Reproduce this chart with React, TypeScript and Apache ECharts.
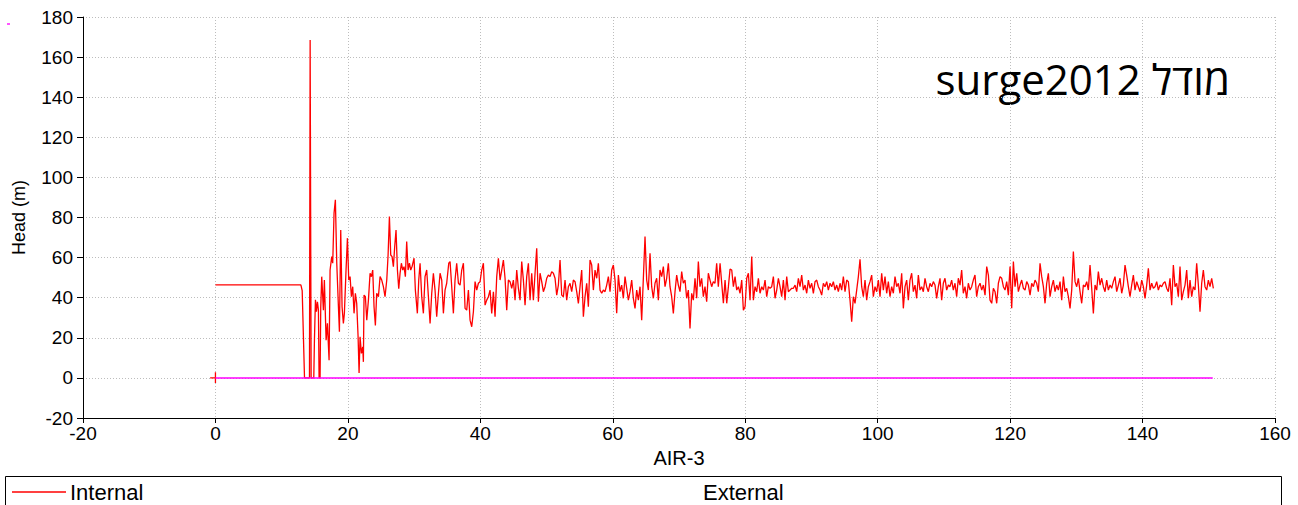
import React, { useEffect, useRef } from "react";
import * as echarts from "echarts";

// ---- data (x = time, y = head in m) ----
const internalEarly: [number, number][] = [
  [0, 46.4], [12.9, 46.4], [13.1, 43.5], [13.45, 0], [14.2, 0], [14.3, 168.5], [14.45, 0],
  [14.85, 0], [14.95, 19], [15.1, 39], [15.25, 33], [15.4, 38], [15.55, 34], [15.65, 0], [15.8, 0],
  [15.9, 35], [16.05, 50.5], [16.3, 33.8], [16.45, 48.8], [16.71, 18.8], [16.91, 27.2], [17.16, 8.8],
  [17.31, 53.8], [17.56, 60.5], [17.71, 57.2], [17.91, 82.2], [18.11, 88.8], [18.32, 57.2], [18.57, 35.5],
  [18.72, 23.0], [18.92, 73.8], [19.12, 35.5], [19.32, 27.2], [19.47, 32.2], [19.72, 53.8], [19.93, 69.7],
  [20.13, 48.8], [20.33, 50.5], [20.53, 40.5], [20.73, 45.5], [20.93, 32.2], [21.13, 42.2], [21.33, 37.2],
  [21.54, 20.5], [21.69, 2.5], [21.84, 20.5], [22.04, 12.2], [22.24, 15.5], [22.34, 8.0], [22.44, 41.3],
  [22.64, 40.5], [22.85, 28.8], [23.1, 38.8], [23.35, 52.2], [23.55, 50.5], [23.75, 53.8], [23.95, 35.5],
  [24.15, 26.2], [24.35, 42.2], [24.61, 40.5], [24.86, 50.5], [25.11, 48.8], [25.36, 45.5], [25.61, 40.5],
  [25.87, 48.8], [26.07, 61.3], [26.27, 80.5], [26.47, 61.3], [26.67, 60.5], [26.87, 55.5], [27.07, 65.5],
  [27.27, 73.8], [27.48, 53.8], [27.68, 44.5], [27.88, 52.2], [28.08, 57.2], [28.28, 53.8], [28.48, 55.5],
  [28.68, 50.5], [28.88, 68.0], [29.09, 53.8], [29.29, 57.2], [29.49, 53.8], [29.69, 55.5], [29.99, 59.7],
  [30.19, 43.8], [30.49, 32.2], [30.7, 48.8], [30.9, 57.2], [31.15, 40.5], [31.4, 32.2], [31.65, 50.5],
  [31.9, 53.8], [32.16, 40.5], [32.41, 27.2], [32.66, 42.2], [32.91, 52.2], [33.16, 43.8], [33.41, 30.5],
  [33.67, 42.2], [33.92, 52.2], [34.17, 48.8], [34.42, 32.2], [34.67, 43.8], [34.92, 47.2], [35.23, 57.2],
  [35.43, 58.0], [35.68, 45.5], [35.93, 32.2], [36.18, 48.8], [36.43, 57.2], [36.69, 47.2],
];

const segAStart = 36.94;
const segAEnd = 75.94;
const segAValues = [
  46.3, 53.8, 57.2, 34.7, 33.8, 43.8, 28.8, 25.5, 33.0, 48.0,
  43.8, 47.2, 48.0, 53.8, 57.2, 36.3, 38.8, 40.5, 43.8, 32.2,
  43.0, 30.5, 50.5, 59.7, 48.8, 53.8, 58.8, 49.7, 33.8, 48.8,
  48.0, 44.7, 48.8, 38.8, 53.8, 44.7, 38.8, 58.0, 48.8, 36.3,
  50.5, 57.2, 38.8, 52.2, 38.8, 52.2, 64.7, 38.0, 52.2, 48.0,
  43.0, 45.5, 49.7, 51.3, 50.5, 53.0, 52.2, 49.7, 41.3, 46.3,
  58.8, 41.3, 40.5, 48.8, 38.8, 45.5, 47.2, 43.0, 48.8, 48.0,
  43.0, 37.2, 45.5, 53.8, 30.5, 40.5, 47.2, 35.5, 58.8, 56.3,
  43.8, 53.8, 49.7, 57.2, 43.8, 42.2, 43.8, 43.0, 46.3, 50.5,
  43.0, 53.8, 56.3, 48.8, 32.2, 51.3, 43.0, 46.3, 39.7, 50.5,
  44.7, 38.8, 43.0, 48.8, 39.7, 34.7, 43.8, 38.8, 45.5, 28.8,
  49.7, 70.5, 48.8, 43.8, 62.2, 45.5, 39.7, 47.2, 49.7, 38.8,
  53.8, 50.5, 55.5, 45.5, 49.7, 57.2, 45.5, 40.5, 32.2, 43.0,
  51.3, 46.3, 43.0, 53.0, 47.2, 48.8, 39.7, 43.8, 24.7, 42.2,
  38.8, 49.7, 39.7, 58.0, 45.5, 49.7, 40.5, 45.5, 38.0, 52.2,
  48.8, 45.5, 48.0, 47.2, 57.2, 45.5,
];

const segBStart = 76.2;
const segBEnd = 115.2;
const segBValues = [
  57.2, 47.2, 37.2, 48.8, 37.2, 45.5, 54.3, 53.8, 45.5, 50.5,
  43.8, 45.5, 42.2, 48.8, 33.8, 35.5, 49.7, 52.2, 38.8, 60.5,
  38.8, 45.5, 43.0, 49.7, 42.2, 45.5, 43.8, 48.8, 40.5, 45.5,
  44.7, 45.5, 50.5, 39.7, 43.8, 49.7, 45.5, 40.5, 48.8, 38.8,
  50.5, 43.0, 43.8, 44.7, 44.7, 46.3, 43.0, 49.7, 45.5, 51.3,
  43.8, 46.3, 42.2, 48.8, 44.7, 47.2, 42.2, 48.0, 48.8, 45.5,
  43.8, 41.3, 47.2, 45.5, 48.0, 43.8, 47.2, 45.5, 48.0, 43.8,
  46.3, 43.0, 47.2, 43.8, 50.5, 43.0, 48.8, 48.0, 38.8, 28.0,
  40.5, 37.2, 43.8, 50.5, 59.2, 45.5, 40.5, 48.8, 38.8, 45.5,
  48.0, 51.3, 40.5, 45.5, 43.0, 48.8, 40.5, 52.2, 43.8, 50.5,
  42.2, 48.0, 40.5, 45.5, 42.2, 50.5, 45.5, 47.2, 42.2, 52.2,
  34.7, 45.5, 48.8, 38.8, 48.8, 52.2, 43.0, 46.3, 39.7, 51.3,
  43.8, 45.5, 43.0, 49.7, 45.5, 43.0, 47.2, 45.5, 48.0, 46.3,
  39.7, 45.5, 49.7, 38.8, 47.2, 49.7, 43.8, 46.3, 45.5, 48.8,
  43.8, 47.2, 40.5, 49.7, 46.3, 53.8, 42.2, 45.5, 39.7, 47.2,
  43.8, 45.5, 48.8, 51.3, 40.5, 45.5,
];

const segCStart = 115.46;
const segCEnd = 150.69;
const segCValues = [
  47.2, 43.8, 46.3, 41.3, 55.5, 51.3, 38.8, 37.2, 44.7, 43.0,
  37.2, 47.2, 50.5, 49.7, 45.5, 43.8, 48.0, 41.3, 55.5, 34.7,
  58.0, 45.5, 52.2, 43.0, 46.3, 48.8, 44.7, 43.8, 48.0, 46.3,
  41.3, 47.2, 45.5, 48.8, 47.2, 43.0, 57.2, 50.5, 45.5, 37.2,
  47.2, 52.2, 40.5, 45.5, 48.8, 43.0, 46.3, 43.8, 48.0, 38.8,
  50.5, 43.0, 44.7, 40.5, 34.7, 43.8, 63.0, 48.0, 45.5, 49.7,
  43.0, 37.2, 46.3, 45.5, 48.0, 43.8, 56.3, 44.7, 32.2, 46.3,
  43.8, 53.0, 46.3, 49.7, 45.5, 43.0, 48.8, 43.8, 46.3, 44.7,
  48.0, 50.5, 43.0, 46.3, 49.7, 42.2, 46.3, 56.3, 51.3, 45.5,
  40.5, 46.3, 51.3, 43.8, 48.0, 45.5, 43.0, 48.8, 45.5, 39.7,
  46.3, 54.7, 43.8, 47.2, 44.7, 45.5, 48.0, 43.8, 46.3, 45.5,
  47.2, 48.0, 44.7, 43.0, 49.7,
  36.3, 56.3, 45.5, 47.2, 40.5, 55.5, 38.8, 43.0, 46.3, 53.8,
  39.7, 48.8, 40.5, 45.5, 43.8, 57.2, 46.3, 33.0, 47.2, 53.8,
  45.5, 43.8, 48.8, 45.5, 49.7, 44.7,
];

const externalPoints: [number, number][] = [[0, 0], [150.6, 0]];
const originMarkH: [number, number][] = [[-0.8, 0], [0.1, 0]];
const originMarkV: [number, number][] = [[0, 2.8], [0, -2.5]];

const xAxisName = "AIR-3";
const yAxisName = "Head (m)";
const titleText = "surge2012 מודל";
const legendNames = ["Internal", "External"];

function segment(start: number, end: number, values: number[]): [number, number][] {
  const step = (end - start) / (values.length - 1);
  return values.map((v, i) => [start + i * step, v]);
}

const FONT = "'Liberation Sans', Arial, Helvetica, sans-serif";

export default function App() {
  const ref = useRef<HTMLDivElement>(null);
  useEffect(() => {
    if (!ref.current) return;
    const chart = echarts.init(ref.current, undefined, { renderer: "svg" });
    const internal = [
      ...internalEarly,
      ...segment(segAStart, segAEnd, segAValues),
      ...segment(segBStart, segBEnd, segBValues),
      ...segment(segCStart, segCEnd, segCValues),
    ];
    const gridLine = { show: true, lineStyle: { color: "#bdbdbd", width: 1, type: [1, 2] as any } };
    const axisCommon = {
      type: "value" as const,
      interval: 20,
      axisLine: { show: true, onZero: false, lineStyle: { color: "#000", width: 1 } },
      axisTick: { show: true, lineStyle: { color: "#000", width: 1 } },
      splitLine: gridLine,
    };
    chart.setOption({
      animation: false,
      backgroundColor: "#fff",
      grid: { left: 83, right: 23, top: 17, bottom: 87, containLabel: false },
      xAxis: {
        ...axisCommon,
        min: -20,
        max: 160,
        axisTick: { ...axisCommon.axisTick, length: 5 },
        axisLabel: { color: "#000", fontSize: 19, fontFamily: FONT, margin: 6 },
        name: xAxisName,
        nameLocation: "middle",
        nameGap: 25,
        nameTextStyle: { color: "#000", fontSize: 20, fontFamily: FONT },
      },
      yAxis: {
        ...axisCommon,
        min: -20,
        max: 180,
        axisTick: { ...axisCommon.axisTick, length: 6 },
        axisLabel: { color: "#000", fontSize: 19, fontFamily: FONT, margin: 10 },
        name: yAxisName,
        nameLocation: "middle",
        nameRotate: 90,
        nameGap: 55,
        nameTextStyle: { color: "#000", fontSize: 18, fontFamily: FONT },
      },
      series: [
        {
          name: legendNames[0],
          type: "line",
          data: internal,
          symbol: "none",
          lineStyle: { color: "#ff0000", width: 1.3 },
          z: 2,
        },
        {
          type: "line",
          data: originMarkH,
          symbol: "none",
          lineStyle: { color: "#ff0000", width: 1.3 },
          z: 2,
        },
        {
          type: "line",
          data: originMarkV,
          symbol: "none",
          lineStyle: { color: "#ff0000", width: 1.3 },
          z: 2,
        },
        {
          name: legendNames[1],
          type: "line",
          data: externalPoints,
          symbol: "none",
          lineStyle: { color: "#ff00ff", width: 1.5 },
          z: 3,
        },
      ],
      graphic: [
        {
          type: "text",
          style: {
            text: titleText,
            x: 1230,
            y: 78,
            align: "right",
            verticalAlign: "middle",
            fontSize: 42,
            fontFamily: "'Open Sans', 'DejaVu Sans', sans-serif",
            fill: "#000",
          },
        },
        {
          type: "rect",
          shape: { x: 5.5, y: 476.5, width: 1276, height: 40 },
          style: { fill: "none", stroke: "#000", lineWidth: 1 },
        },
        {
          type: "line",
          shape: { x1: 12, y1: 492, x2: 66, y2: 492 },
          style: { stroke: "#ff0000", lineWidth: 1.3 },
        },
        {
          type: "text",
          style: {
            text: legendNames[0],
            x: 70,
            y: 492,
            verticalAlign: "middle",
            fontSize: 22,
            fontFamily: FONT,
            fill: "#000",
          },
        },
        {
          type: "text",
          style: {
            text: legendNames[1],
            x: 703,
            y: 492,
            verticalAlign: "middle",
            fontSize: 22,
            fontFamily: FONT,
            fill: "#000",
          },
        },
        {
          type: "rect",
          shape: { x: 7, y: 23, width: 3, height: 2 },
          style: { fill: "#ff55ff" },
        },
      ],
    });
    return () => chart.dispose();
  }, []);
  return (
    <div
      ref={ref}
      style={{ position: "fixed", left: 0, top: 0, width: 1298, height: 505, background: "#fff" }}
    />
  );
}
